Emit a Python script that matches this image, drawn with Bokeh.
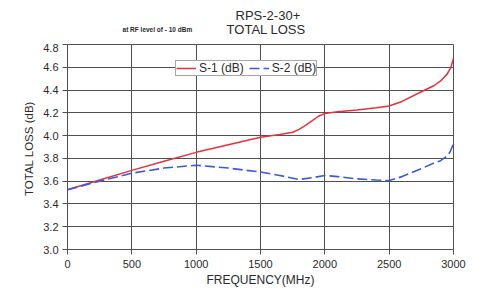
from bokeh.plotting import figure
from bokeh.layouts import column
from bokeh.models import Range1d, FixedTicker, NumeralTickFormatter, Legend, LegendItem
from bokeh.core.properties import value
from bokeh.embed import file_html
from bokeh.resources import INLINE

# ---- data ----
freq_s1 = [0, 250, 500, 750, 1000, 1250, 1500, 1650, 1750, 1800, 1850, 1900, 1950, 2000,
           2100, 2250, 2400, 2500, 2600, 2750, 2850, 2900, 2950, 2980, 3000]
loss_s1 = [3.525, 3.61, 3.695, 3.775, 3.853, 3.92, 3.985, 4.01, 4.03, 4.055, 4.09, 4.13, 4.17, 4.195,
           4.21, 4.225, 4.245, 4.26, 4.30, 4.385, 4.44, 4.48, 4.54, 4.60, 4.68]
freq_s2 = [0, 250, 500, 750, 1000, 1250, 1500, 1650, 1800, 1900, 2000, 2100, 2250, 2400,
           2500, 2600, 2750, 2850, 2900, 2950, 2975, 3000]
loss_s2 = [3.525, 3.60, 3.67, 3.715, 3.74, 3.715, 3.68, 3.65, 3.615, 3.63, 3.65, 3.64, 3.62, 3.61,
           3.605, 3.64, 3.71, 3.76, 3.78, 3.82, 3.86, 3.93]
x_ticks = [0, 500, 1000, 1500, 2000, 2500, 3000]
y_ticks = [3.0, 3.2, 3.4, 3.6, 3.8, 4.0, 4.2, 4.4, 4.6, 4.8]
series_names = ["S-1 (dB)", "S-2 (dB)"]
title_lines = ["RPS-2-30+", "TOTAL  LOSS"]
note_text = "at RF level of - 10 dBm"

FONT = "Liberation Sans"
TXT = "#2a2a2a"
GRID = "#505050"
W = 470
HEAD_H = 43

# ---- header strip holding the titles (pixel-like coordinate space) ----
head = figure(width=W, height=HEAD_H, output_backend="svg", toolbar_location=None,
              x_range=Range1d(0, W), y_range=Range1d(0, HEAD_H),
              min_border=0, title=None)
head.axis.visible = False
head.grid.visible = False
head.outline_line_color = None
head.background_fill_color = "white"
head.border_fill_color = "white"
head.text(x=[244, 244], y=[HEAD_H - 15, HEAD_H - 29], text=title_lines,
          text_align="center", text_baseline="middle", text_font=value(FONT),
          text_font_size="13px", text_color=TXT)
head.text(x=[67], y=[HEAD_H - 29], text=[note_text], text_align="left",
          text_baseline="middle", text_font=value(FONT), text_font_size="6.5px",
          text_font_style="bold", text_color=TXT)

# ---- main chart ----
p = figure(width=W, height=246, output_backend="svg", toolbar_location=None,
           x_range=Range1d(0, 3000), y_range=Range1d(3.0, 4.8), title=None,
           min_border_left=67, min_border_right=17, min_border_top=1, min_border_bottom=39)
p.background_fill_color = "white"
p.border_fill_color = "white"
p.outline_line_color = GRID
p.outline_line_width = 1

for ax in (p.xaxis[0], p.yaxis[0]):
    ax.axis_line_color = GRID
    ax.major_tick_line_color = GRID
    ax.minor_tick_line_color = None
    ax.major_tick_in = 0
    ax.major_tick_out = 5
    ax.major_label_text_font = FONT
    ax.major_label_text_font_size = "11px"
    ax.major_label_text_color = TXT
    ax.axis_label_text_font = FONT
    ax.axis_label_text_font_style = "normal"
    ax.axis_label_text_color = TXT

p.xaxis.ticker = FixedTicker(ticks=x_ticks)
p.yaxis.ticker = FixedTicker(ticks=y_ticks)
p.yaxis.formatter = NumeralTickFormatter(format="0.0")
p.xaxis.major_label_standoff = 5
p.yaxis.major_label_standoff = 4
p.xaxis.axis_label = "FREQUENCY(MHz)"
p.xaxis.axis_label_text_font_size = "12px"
p.xaxis.axis_label_standoff = 2
p.yaxis.axis_label = "TOTAL  LOSS (dB)"
p.yaxis.axis_label_text_font_size = "11.5px"
p.yaxis.axis_label_standoff = 5

p.xgrid.ticker = FixedTicker(ticks=x_ticks)
p.ygrid.ticker = FixedTicker(ticks=y_ticks)
p.grid.grid_line_color = GRID
p.grid.grid_line_width = 1

r1 = p.line(freq_s1, loss_s1, line_color="#e8303a", line_width=1.5)
r2 = p.line(freq_s2, loss_s2, line_color="#3a5ad8", line_width=1.6, line_dash="10 4")

legend = Legend(items=[LegendItem(label=series_names[0], renderers=[r1]),
                       LegendItem(label=series_names[1], renderers=[r2])],
                orientation="horizontal", location=(108, 173),
                label_text_font=FONT, label_text_font_size="12px", label_text_color=TXT,
                glyph_width=20, glyph_height=10, label_height=10, label_standoff=3,
                spacing=5, padding=0, margin=0,
                border_line_color=GRID, border_line_width=1,
                background_fill_color="white", background_fill_alpha=1)
p.add_layout(legend, "center")

layout = column(head, p, spacing=0)
open("out.html", "w").write(file_html(layout, INLINE))
